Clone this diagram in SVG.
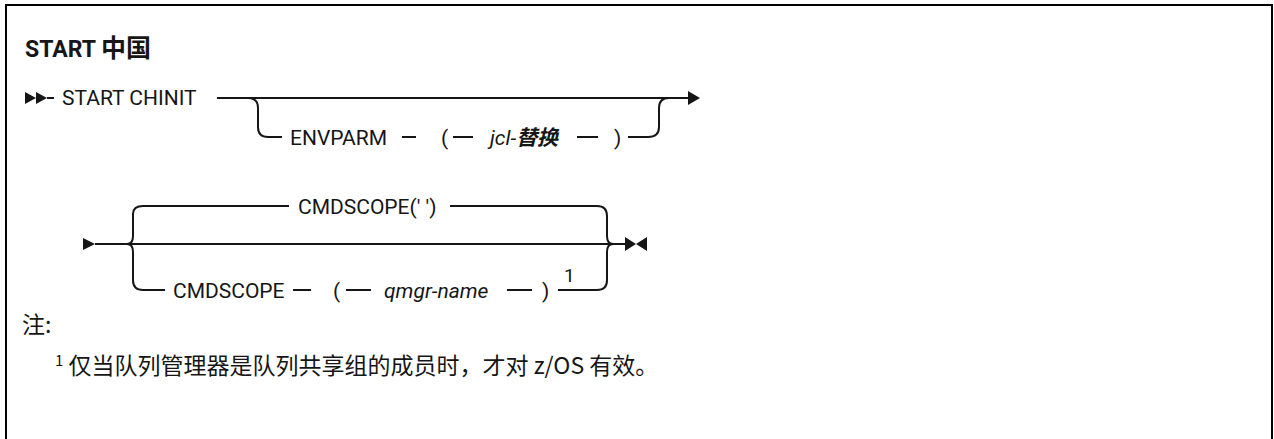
<svg xmlns="http://www.w3.org/2000/svg" width="1274" height="439" viewBox="0 0 1274 439">
<style>
.t{font-family:Roboto,"Noto Sans CJK SC",sans-serif;font-size:21px;fill:#161616}
.i{font-style:italic}
.b{font-weight:bold}
.ln{fill:none;stroke:#161616;stroke-width:2}
.ah{fill:#161616;stroke:none}
.cjk{font-family:"Noto Sans CJK SC",sans-serif}
.note{font-family:"Noto Sans CJK SC",sans-serif;font-size:23px;fill:#161616}
</style>
<rect x="6" y="5" width="1266" height="460" fill="#fff" stroke="#000" stroke-width="2"/>
<g id="title"><text class="t b" x="25" y="57" style="font-size:23px">START <tspan class="cjk" style="font-size:25px">中国</tspan></text></g>
<g id="connectors">
<polygon class="ah" points="25,92 36,98 25,104"/>
<polygon class="ah" points="36,92 47,98 36,104"/>
<path class="ln" d="M47,98 H54"/>
<path class="ln" d="M217,98 H689"/>
<polygon class="ah" points="688,91 700,98 688,105"/>
<path class="ln" d="M248,98 Q258,98 258,108 V127 Q258,137 268,137 H282"/>
<path class="ln" d="M402,137 H416 M453,137 H473 M577,137 H598 M628,137 H648"/>
<path class="ln" d="M648,137 Q659,137 659,127 V108 Q659,98 669,98"/>
<polygon class="ah" points="83,238 95,244 83,250"/>
<path class="ln" d="M95,244 H625"/>
<path class="ln" d="M127,244 Q133,244 133,236 V214 Q133,206 143,206 H289 M450,206 H597 Q607,206 607,216 V236 Q607,244 613,244"/>
<path class="ln" d="M127,244 Q133,244 133,252 V280 Q133,290 143,290 H165 M558,290 H597 Q607,290 607,280 V252 Q607,244 613,244"/>
<path class="ln" d="M293,290 H311 M346,290 H371 M507,290 H532"/>
<polygon class="ah" points="625,237 636,244 625,251"/>
<polygon class="ah" points="647,237 636,244 647,251"/>
</g>
<g id="start"><text class="t" x="62" y="105">START CHINIT</text></g>
<g id="envparm"><text class="t" x="290" y="145">ENVPARM</text><text class="t" x="441" y="145">(</text><text class="t i" x="490" y="145">jcl-<tspan class="b">替换</tspan></text><text class="t" x="614" y="145">)</text></g>
<g id="cmdscope-default"><text class="t" x="298" y="213.5">CMDSCOPE(' ')</text></g>
<g id="cmdscope"><text class="t" x="173" y="297.5">CMDSCOPE</text><text class="t" x="333" y="297.5">(</text><text class="t i" x="384" y="297.5">qmgr-name</text><text class="t" x="542" y="297.5">)</text><text class="t" x="564" y="282" style="font-size:19px">1</text></g>
<g id="notes"><text class="note" x="22" y="333">注:</text><text class="note" x="55" y="374"><tspan dy="-8" style="font-size:15px">1</tspan><tspan dy="8"> 仅当队列管理器是队列共享组的成员时，才对 z/OS 有效。</tspan></text></g>
</svg>
